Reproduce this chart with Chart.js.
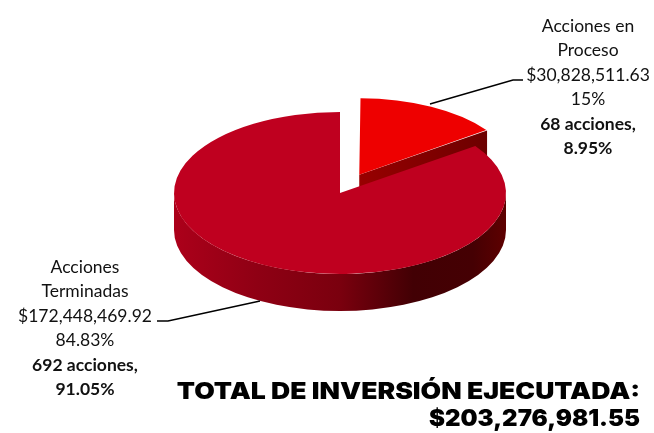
<!doctype html>
<html lang="es">
  <head>
    <meta charset="utf-8">
    <title>Total de inversión ejecutada</title>
    <script src="https://cdn.jsdelivr.net/npm/chart.js"></script>
    <style>
      html, body { margin: 0; padding: 0; background: #fff; }
      #wrap { position: relative; width: 654px; height: 433px; overflow: hidden; }
      canvas { position: absolute; left: 0; top: 0; }
      .label { position: absolute; width: 170px; text-align: center; color: #111;
               font: 17.5px/24.4px Lato, sans-serif; white-space: nowrap; }
      .total { position: absolute; right: 14px; color: #000; white-space: nowrap;
               font: 900 23px/27px Inter, sans-serif; transform-origin: right center; }
    </style>
  </head>
  <body>
    <div id="wrap">
      <canvas id="myChart" width="654" height="433"></canvas>
    </div>

    <script>
        const categories = ['Acciones en Proceso', 'Acciones Terminadas'];
        const amounts = [30828511.63, 172448469.92];
        const sliceColors = ['#ee0000', '#bf001f'];
        const sliceOffsets = [168, 0];

        const labelTexts = [
            ['Acciones en', 'Proceso', '$30,828,511.63', '15%'],
            ['Acciones', 'Terminadas', '$172,448,469.92', '84.83%']
        ];
        const labelBold = [
            ['68 acciones,', '8.95%'],
            ['692 acciones,', '91.05%']
        ];
        const totalLines = ['TOTAL DE INVERSIÓN EJECUTADA:', '$203,276,981.55'];
        const totalStretch = [1.155, 1.045];

        // the picture is a tilted pie, so the round pie gets squashed and given a wall
        const squash = 0.488;
        const depth = 37;
        const backSliceShrink = 17;

        function sliceGeometry(arc) {
            const off = (arc.options.offset || 0) / 4;
            const half = (arc.startAngle + arc.endAngle) / 2;
            return {
                x: arc.x + Math.cos(half) * off,
                y: arc.y + Math.sin(half) * off,
                r: arc.outerRadius + off * (1 - Math.sin(Math.min(Math.PI, arc.circumference)))
            };
        }

        const tiltedPie = {
            id: 'tiltedPie',
            afterDatasetUpdate(chart, args) {
                const arc = chart.getDatasetMeta(args.index).data[0];
                arc.outerRadius -= backSliceShrink;
            },
            beforeDatasetDraw(chart, args) {
                const ctx = chart.ctx;
                const arcs = args.meta.data;
                const cy = arcs[1].y;
                const drop = depth / squash;

                ctx.save();
                ctx.translate(0, cy);
                ctx.scale(1, squash);
                ctx.translate(0, -cy);

                // cut face of the small slice
                const s = sliceGeometry(arcs[0]);
                const a = arcs[0].endAngle;
                const ex = s.x + Math.cos(a) * s.r;
                const ey = s.y + Math.sin(a) * s.r;
                const faceFill = ctx.createLinearGradient(s.x, 0, ex, 0);
                faceFill.addColorStop(0, '#980000');
                faceFill.addColorStop(1, '#6c0000');
                ctx.fillStyle = faceFill;
                ctx.beginPath();
                ctx.moveTo(s.x, s.y);
                ctx.lineTo(ex, ey);
                ctx.lineTo(ex, ey + drop);
                ctx.lineTo(s.x, s.y + drop);
                ctx.closePath();
                ctx.fill();

                // outer wall of the big slice, front half only
                const m = sliceGeometry(arcs[1]);
                const wallFill = ctx.createLinearGradient(m.x - m.r, 0, m.x + m.r, 0);
                wallFill.addColorStop(0, '#ac001a');
                wallFill.addColorStop(0.25, '#8f0014');
                wallFill.addColorStop(0.5, '#7a000e');
                wallFill.addColorStop(0.72, '#420004');
                wallFill.addColorStop(0.9, '#450003');
                wallFill.addColorStop(1, '#5e0000');
                ctx.fillStyle = wallFill;
                ctx.beginPath();
                ctx.arc(m.x, m.y, m.r, 0, Math.PI);
                ctx.arc(m.x, m.y + drop, m.r, Math.PI, 0, true);
                ctx.closePath();
                ctx.fill();
            },
            afterDatasetDraw(chart) {
                chart.ctx.restore();
            },
            afterDraw(chart) {
                // leader lines from the labels to the pie
                const ctx = chart.ctx;
                ctx.save();
                ctx.strokeStyle = '#000';
                ctx.lineWidth = 1.4;
                ctx.beginPath();
                ctx.moveTo(430, 104);
                ctx.lineTo(513, 80);
                ctx.lineTo(523, 80);
                ctx.moveTo(260, 301);
                ctx.lineTo(168, 321);
                ctx.lineTo(157, 321);
                ctx.stroke();
                ctx.restore();
            }
        };

        const config = {
            type: 'pie',
            data: {
                labels: categories,
                datasets: [{
                    data: amounts,
                    backgroundColor: sliceColors,
                    offset: sliceOffsets,
                    borderWidth: 0,
                    radius: 166,
                    clip: false
                }]
            },
            options: {
                responsive: false,
                animation: false,
                layout: { padding: { left: 26, bottom: 47 } },
                plugins: { legend: { display: false }, tooltip: { enabled: false } }
            },
            plugins: [tiltedPie]
        };

        new Chart(document.getElementById('myChart'), config);

        // text goes on top of the canvas as html
        const wrap = document.getElementById('wrap');
        const labelPlaces = [[503, 14], [0, 255]];
        labelTexts.forEach((lines, i) => {
            const el = document.createElement('div');
            el.className = 'label';
            el.style.left = labelPlaces[i][0] + 'px';
            el.style.top = labelPlaces[i][1] + 'px';
            lines.forEach(t => {
                const row = document.createElement('div');
                row.textContent = t;
                el.appendChild(row);
            });
            labelBold[i].forEach(t => {
                const row = document.createElement('div');
                row.textContent = t;
                row.style.fontWeight = 'bold';
                el.appendChild(row);
            });
            wrap.appendChild(el);
        });
        totalLines.forEach((t, i) => {
            const el = document.createElement('div');
            el.className = 'total';
            el.style.top = (378 + i * 27) + 'px';
            el.style.transform = 'scaleX(' + totalStretch[i] + ')';
            el.textContent = t;
            wrap.appendChild(el);
        });
    </script>
  </body>
</html>
